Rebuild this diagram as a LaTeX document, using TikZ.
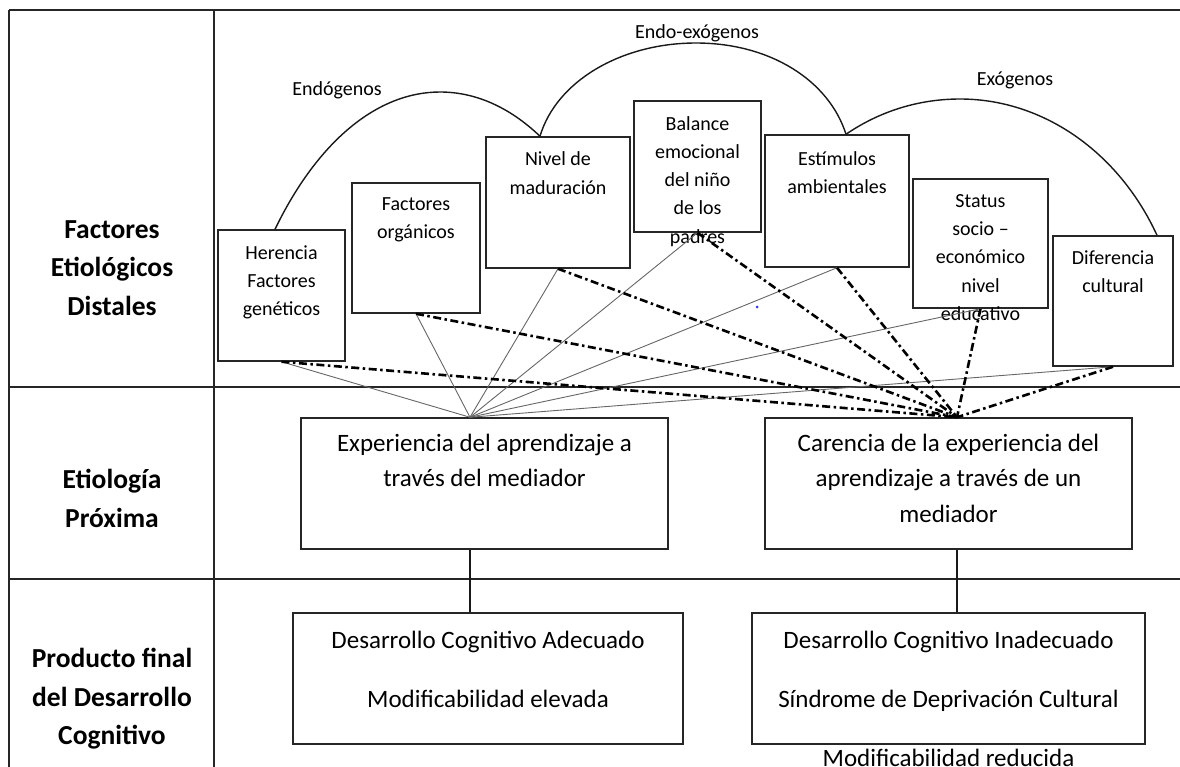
\documentclass[tikz,border=0pt]{standalone}
\usepackage{fontspec}
\setmainfont{Carlito}
\begin{document}
\begin{tikzpicture}[x=1pt,y=-1pt,
  grid/.style={line width=1.7pt, draw=black!85},
  box/.style={draw=black!85, line width=1.5pt, inner sep=0pt},
  stxt/.style={font=\fontsize{20}{28.2}\selectfont, align=center, inner sep=0pt, anchor=north, text=black},
  btxt/.style={font=\fontsize{25}{35.5}\selectfont, align=center, inner sep=0pt, anchor=north, text=black},
  wtxt/.style={font=\fontsize{25}{59}\selectfont, align=center, inner sep=0pt, anchor=north, text=black},
  lab/.style={font=\bfseries\fontsize{27.5}{38.5}\selectfont, align=center, inner sep=0pt, text=black},
  atxt/.style={font=\fontsize{20}{24}\selectfont, inner sep=0pt, text=black},
  fine/.style={draw=black!60, line width=0.9pt},
  dd/.style={draw=black, line width=2.6pt, dash pattern=on 8pt off 3.5pt on 2.5pt off 3.5pt},
  arcl/.style={draw=black!90, line width=1.4pt},
  conn/.style={draw=black!90, line width=1.3pt}
]
\useasboundingbox (0,0) rectangle (1180,766);

% table frame
\draw[grid] (9,10) -- (1185,10);
\draw[grid] (9,10) -- (9,770);
\draw[grid] (214,10) -- (214,770);
\draw[grid] (9,387) -- (1185,387);
\draw[grid] (9,579) -- (1185,579);

% row labels
\node[lab] (l1) at (112,268) {Factores\\Etiológicos\\Distales};
\node[lab] (l2) at (112,498.5) {Etiología\\Próxima};
\node[lab] (l3) at (112,699) {Producto final\\del Desarrollo\\Cognitivo};

% top boxes
\node[box, minimum width=127pt, minimum height=131pt] (her) at (281.5,295.5) {};
\node[box, minimum width=128pt, minimum height=130pt] (org) at (416,248) {};
\node[box, minimum width=144pt, minimum height=131pt] (niv) at (558,202.5) {};
\node[box, minimum width=127pt, minimum height=131pt] (bal) at (697.5,166.5) {};
\node[box, minimum width=144pt, minimum height=132pt] (est) at (837,201) {};
\node[box, minimum width=135pt, minimum height=129pt] (sta) at (980.5,243.5) {};
\node[box, minimum width=120pt, minimum height=130pt] (dif) at (1113,301) {};

\node[stxt] at ([yshift=-16pt]her.north) {Herencia\\Factores\\genéticos};
\node[stxt] at ([yshift=-15.5pt]org.north) {Factores\\orgánicos};
\node[stxt] at ([yshift=-15.5pt]niv.north) {Nivel de\\maduración};
\node[stxt] at ([yshift=-16pt]bal.north) {Balance\\emocional\\del niño\\de los\\padres};
\node[stxt] at ([yshift=-17pt]est.north) {Estímulos\\ambientales};
\node[stxt] at ([yshift=-16pt]sta.north) {Status\\socio –\\económico\\nivel\\educativo};
\node[stxt] at ([yshift=-15pt]dif.north) {Diferencia\\cultural};

% arcs
\coordinate (a0) at ([xshift=-6.5pt]her.north);
\coordinate (p1) at (440,92);
\coordinate (a1) at ([xshift=-18pt]niv.north);
\coordinate (p2) at (696,43);
\coordinate (a2) at ([xshift=9pt]est.north);
\coordinate (p3) at (960,99);
\coordinate (a3) at ([xshift=44pt]dif.north);
\draw[arcl] (a0) .. controls +(42.7,-88.1) and +(-62.6,0) .. (p1)
               .. controls +(34.7,0) and +(-31.1,-29.7) .. (a1);
\draw[arcl] (a1) .. controls +(16.2,-54.9) and +(-75,0) .. (p2)
               .. controls +(74,0) and +(-17.2,-54) .. (a2);
\draw[arcl] (a2) .. controls +(34.5,-23.6) and +(-40.1,0) .. (p3)
               .. controls +(82.4,0) and +(-38.7,-83.9) .. (a3);
\node[atxt] (lendo) at (337,90) {Endógenos};
\node[atxt] (lendoexo) at (697,33) {Endo-exógenos};
\node[atxt] (lexo) at (1015,80) {Exógenos};

% middle and bottom boxes
\node[box, minimum width=367pt, minimum height=131pt] (exp) at (484.5,483.5) {};
\node[box, minimum width=367pt, minimum height=131pt] (car) at (948.5,483.5) {};
\node[box, minimum width=390pt, minimum height=131pt] (ade) at (488,678.5) {};
\node[box, minimum width=393pt, minimum height=131pt] (ina) at (948.5,678.5) {};

\node[btxt] at ([yshift=-16.5pt]exp.north) {Experiencia del aprendizaje a\\través del mediador};
\node[btxt] at ([yshift=-16.5pt]car.north) {Carencia de la experiencia del\\aprendizaje a través de un\\mediador};
\node[wtxt] at ([yshift=-18.5pt]ade.north) {Desarrollo Cognitivo Adecuado\\Modificabilidad elevada};
\node[wtxt] at ([yshift=-18.5pt]ina.north) {Desarrollo Cognitivo Inadecuado\\Síndrome de Deprivación Cultural\\Modificabilidad reducida};

% convergence points
\coordinate (L) at ([xshift=-14.5pt]exp.north);
\coordinate (R) at ([xshift=8.5pt]car.north);

\foreach \n in {her,org,niv,bal,est,sta,dif}{
  \draw[fine] (\n.south) -- (L);
}
\foreach \n in {her,org,niv,bal,est,sta,dif}{
  \draw[dd] (\n.south) -- (R);
}

\draw[conn] (L |- exp.south) -- (L |- ade.north);
\draw[conn] (R |- car.south) -- (R |- ina.north);

\fill[blue!80] (757,307) circle (1.5pt);
\end{tikzpicture}
\end{document}
